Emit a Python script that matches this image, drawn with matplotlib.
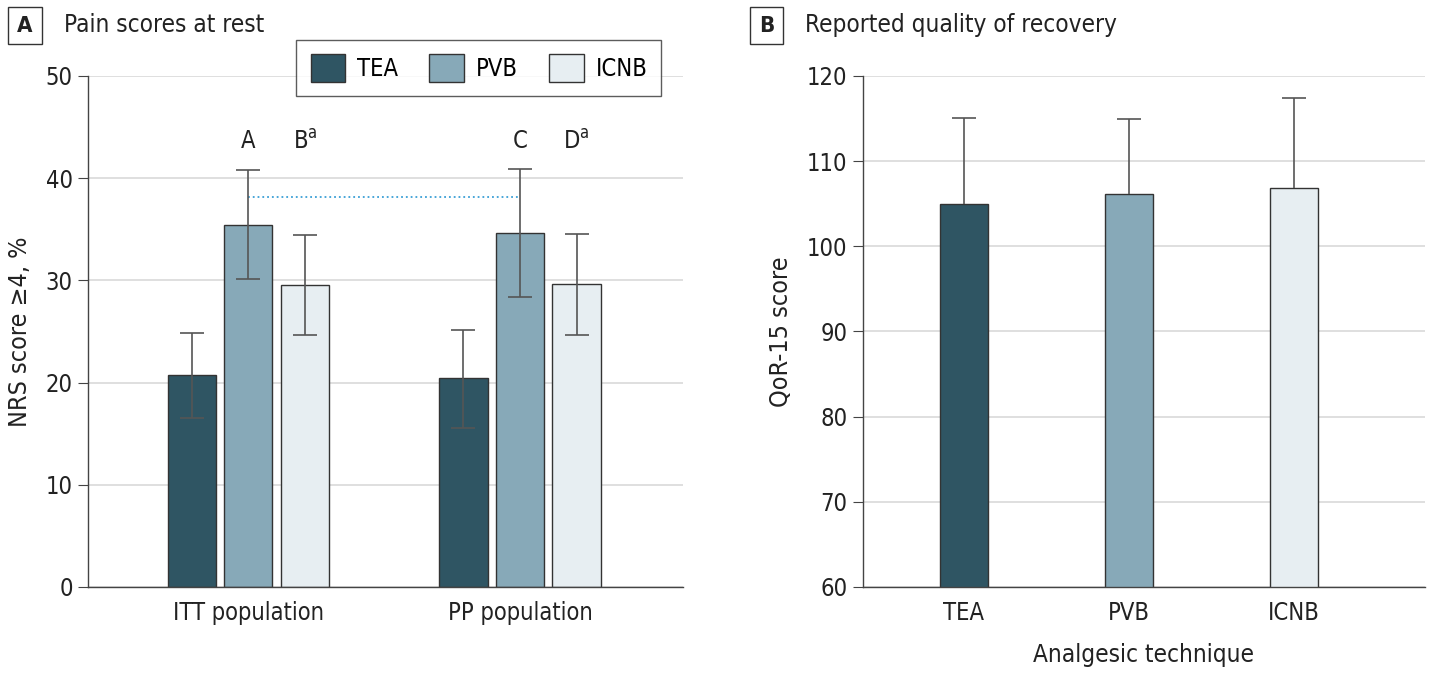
import matplotlib.pyplot as plt
import numpy as np

plt.rcParams['font.family'] = ['DejaVu Sans']
plt.rcParams['font.stretch'] = 'condensed'

# panel A data
groups = ['ITT population', 'PP population']
techniques = ['TEA', 'PVB', 'ICNB']
colors = ['#2f5563', '#87a9b8', '#e7eef2']
pain_mean = [[20.7, 20.4], [35.4, 34.6], [29.5, 29.6]]
pain_low = [[16.5, 15.6], [30.1, 28.4], [24.7, 24.7]]
pain_high = [[24.9, 25.1], [40.8, 40.9], [34.4, 34.5]]
sig_labels = [['', ''], ['A', 'C'], ['B$^{\\mathregular{a}}$', 'D$^{\\mathregular{a}}$']]
sig_line_y = 38.2

# panel B data
qor_mean = [105.0, 106.1, 106.9]
qor_sd = [10.1, 8.8, 10.5]

fig = plt.figure(figsize=(14.31, 6.73), dpi=100)
axA = fig.add_axes([0.0615, 0.1278, 0.4158, 0.7593])
axB = fig.add_axes([0.603, 0.1278, 0.3927, 0.7593])

spine_c = '#444444'
grid_c = '#d9d9d9'
txt_c = '#222222'


def style_axis(ax):
    ax.set_axisbelow(True)
    ax.yaxis.grid(True, color=grid_c, lw=1.2)
    for s in ['top', 'right']:
        ax.spines[s].set_visible(False)
    for s in ['left', 'bottom']:
        ax.spines[s].set_color(spine_c)
        ax.spines[s].set_linewidth(1.0)
    ax.tick_params(axis='y', direction='out', length=7, color=spine_c,
                   labelsize=17, pad=4, labelcolor=txt_c)
    ax.tick_params(axis='x', length=0, labelsize=17, pad=10, labelcolor=txt_c)


# ---- panel A
x = np.arange(len(groups))
offs = [-0.208, 0.0, 0.208]
w = 0.178
for i, t in enumerate(techniques):
    m = np.array(pain_mean[i])
    lo = m - np.array(pain_low[i])
    hi = np.array(pain_high[i]) - m
    axA.bar(x + offs[i], m, w, color=colors[i], edgecolor='#333333', lw=1.0, label=t, zorder=2)
    axA.errorbar(x + offs[i], m, yerr=[lo, hi], fmt='none', ecolor='#555555',
                 elinewidth=1.2, capsize=8.6, capthick=1.2, zorder=3)
    for j in range(len(groups)):
        if sig_labels[i][j]:
            axA.text(x[j] + offs[i], 43.6, sig_labels[i][j], ha='center', va='center',
                     fontsize=17, color=txt_c)

axA.plot([x[0] + offs[1], x[1] + offs[1]], [sig_line_y, sig_line_y], ls=':', color='#3a9fd6',
         lw=1.3, zorder=2)
style_axis(axA)
axA.set_xlim(-0.59, 1.60)
axA.set_ylim(0, 50)
axA.set_yticks(range(0, 51, 10))
axA.set_xticks(x)
axA.set_xticklabels(groups)
axA.set_ylabel('NRS score ≥4, %', fontsize=18, color=txt_c, labelpad=10)

# ---- panel B
xb = np.arange(len(techniques))
axB.bar(xb, qor_mean, 0.29, color=colors, edgecolor='#333333', lw=1.0, zorder=2)
eb = axB.errorbar(xb, qor_mean, yerr=[np.zeros(3), qor_sd], fmt='none', ecolor='#555555',
                  elinewidth=1.2, capsize=8.6, capthick=1.2, zorder=3)
eb[1][0].set_visible(False)  # no cap on top of bar
style_axis(axB)
axB.set_xlim(-0.61, 2.79)
axB.set_ylim(60, 120)
axB.set_yticks(range(60, 121, 10))
axB.set_xticks(xb)
axB.set_xticklabels(techniques)
axB.set_ylabel('QoR-15 score', fontsize=18, color=txt_c, labelpad=10)
axB.set_xlabel('Analgesic technique', fontsize=17.5, color=txt_c, labelpad=13)

# legend
leg = fig.legend(loc='center', bbox_to_anchor=(0.3347, 0.899), ncol=3, fontsize=17,
                 frameon=True, fancybox=False, handlelength=1.45, handleheight=1.45,
                 columnspacing=1.35, handletextpad=0.5, borderpad=0.6)
leg.get_frame().set_edgecolor('#333333')
leg.get_frame().set_linewidth(1.0)

# panel headers
for px, letter, title in [(0.0175, 'A', 'Pain scores at rest'), (0.5355, 'B', 'Reported quality of recovery')]:
    fig.text(px, 0.962, letter, fontsize=16, fontweight='bold', ha='center', va='center',
             color=txt_c,
             bbox=dict(boxstyle='square,pad=0.4', fc='white', ec='#333333', lw=1.0))
    fig.text(px + 0.027, 0.963, title, fontsize=17.5, ha='left', va='center', color=txt_c)

fig.savefig('out.png', dpi=100)
